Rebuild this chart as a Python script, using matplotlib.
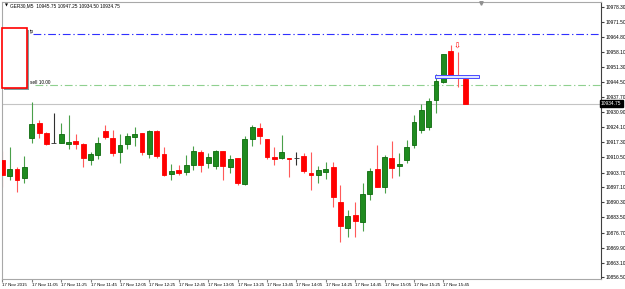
import matplotlib.pyplot as plt
import matplotlib.transforms as mtransforms
from matplotlib.patches import Rectangle

plt.rcParams['font.family'] = ['Liberation Sans', 'DejaVu Sans']

# GER30 M5 candles, 17 Nov 2015 10:45 .. 16:00
opens = [10909.25, 10902.25, 10905.25, 10901.25, 10919.25, 10926.00, 10921.50, 10917.00,
         10917.00, 10916.50, 10918.00, 10916.50, 10909.25, 10911.50, 10922.50, 10919.25,
         10913.00, 10916.50, 10919.75, 10921.50, 10912.00, 10922.50, 10912.00, 10903.00,
         10904.75, 10904.00, 10907.00, 10913.00, 10908.00, 10906.75, 10913.50, 10906.25,
         10910.25, 10898.50, 10918.75, 10923.75, 10918.75, 10910.75, 10910.25, 10910.25,
         10910.25, 10911.25, 10903.50, 10902.50, 10904.00, 10906.25, 10890.50, 10878.75,
         10884.50, 10881.50, 10894.00, 10905.25, 10897.25, 10910.25, 10906.75, 10909.25,
         10916.00, 10922.75, 10924.25, 10936.25, 10944.50, 10958.50, 10947.25, 10945.75]
highs = [10913.50, 10915.25, 10906.25, 10911.25, 10935.50, 10927.25, 10922.00, 10930.50,
         10926.00, 10929.50, 10921.00, 10917.00, 10913.00, 10919.75, 10925.00, 10922.75,
         10921.00, 10921.50, 10924.25, 10921.50, 10922.75, 10922.75, 10915.25, 10907.50,
         10907.00, 10911.50, 10915.75, 10913.75, 10912.50, 10913.75, 10913.50, 10911.50,
         10910.25, 10920.25, 10925.00, 10926.00, 10918.75, 10915.25, 10920.50, 10910.25,
         10913.00, 10912.50, 10913.00, 10906.75, 10908.50, 10908.50, 10898.00, 10886.75,
         10890.50, 10899.00, 10905.75, 10916.00, 10911.50, 10918.00, 10912.50, 10918.25,
         10929.50, 10934.50, 10937.25, 10948.00, 10957.00, 10961.00, 10958.00, 10947.25]
lows = [10897.25, 10900.25, 10895.00, 10899.00, 10917.00, 10919.25, 10916.00, 10917.00,
        10917.00, 10914.25, 10914.25, 10906.25, 10907.00, 10909.75, 10918.75, 10911.25,
        10908.00, 10914.25, 10915.75, 10911.50, 10910.25, 10910.25, 10902.25, 10900.25,
        10902.50, 10902.50, 10904.75, 10904.00, 10905.75, 10905.25, 10900.25, 10903.50,
        10898.00, 10898.00, 10915.75, 10916.50, 10909.75, 10907.00, 10909.75, 10901.75,
        10907.00, 10903.50, 10895.75, 10899.00, 10900.75, 10888.25, 10872.50, 10874.75,
        10874.75, 10877.50, 10891.25, 10897.25, 10894.50, 10901.25, 10902.25, 10908.00,
        10914.75, 10921.50, 10922.75, 10930.50, 10944.00, 10946.75, 10942.25, 10934.50]
closes = [10902.50, 10905.25, 10900.25, 10906.25, 10925.50, 10921.50, 10916.50, 10917.00,
          10921.00, 10917.50, 10916.50, 10910.25, 10912.00, 10917.00, 10919.75, 10912.50,
          10916.00, 10920.25, 10921.00, 10913.00, 10922.50, 10911.25, 10902.50, 10904.50,
          10903.50, 10907.00, 10913.50, 10907.00, 10910.75, 10913.50, 10906.75, 10909.75,
          10899.00, 10918.75, 10924.25, 10920.25, 10910.75, 10909.75, 10913.00, 10909.75,
          10910.25, 10904.50, 10902.50, 10904.75, 10905.25, 10892.75, 10879.75, 10884.25,
          10882.00, 10894.00, 10904.50, 10897.25, 10910.75, 10905.75, 10907.50, 10915.25,
          10926.50, 10931.75, 10936.00, 10945.00, 10957.00, 10946.75, 10946.25, 10934.75]

time_labels = ['17 Nov 2015', '17 Nov 11:05', '17 Nov 11:25', '17 Nov 11:45', '17 Nov 12:05',
               '17 Nov 12:25', '17 Nov 12:45', '17 Nov 13:05', '17 Nov 13:25', '17 Nov 13:45',
               '17 Nov 14:05', '17 Nov 14:25', '17 Nov 14:45', '17 Nov 15:05', '17 Nov 15:25',
               '17 Nov 15:45']
price_ticks = [10978.30, 10971.50, 10964.80, 10958.10, 10951.30, 10944.50, 10937.70, 10930.90,
               10924.10, 10917.30, 10910.50, 10903.70, 10897.10, 10890.30, 10883.50, 10876.70,
               10869.90, 10863.10, 10856.50]

tp_level = 10966.00
sell_level = 10943.00
bid = 10934.75
arrow_price = 10960.40
header = 'GER30,M5  10945.75 10947.25 10934.50 10934.75'

fig = plt.figure(figsize=(6.25, 2.89), dpi=100)
ax = fig.add_axes([2 / 625, 1 - 279 / 289, 599 / 625, 277 / 289])
ax.set_xlim(-0.05, 81.45)
ax.set_ylim(10855.78, 10980.43)

x = list(range(len(opens)))
green, green_edge, red = '#1f8b1f', '#0d6a0d', '#ff0000'
for i in x:
    o, h, l, c = opens[i], highs[i], lows[i], closes[i]
    if c > o:
        col, ec, wc = green, green_edge, '#4aa04a'
    elif c < o:
        col, ec, wc = red, red, '#ff5a5a'
    else:
        col, ec, wc = '#303030', '#303030', '#303030'
    ax.vlines(i, l, h, color=wc, lw=0.8, zorder=2)
    ax.bar(i, abs(c - o), bottom=min(o, c), width=0.66, color=col,
           edgecolor=ec, linewidth=0.6, zorder=3)

# price levels
ax.axhline(bid, color='#c4c4c4', lw=0.8, zorder=1)
ax.axhline(tp_level, xmin=0.052, color='#3030ff', lw=0.8, ls=(0, (7, 2.5, 1.2, 2.5)), zorder=1)
ax.axhline(sell_level, xmin=0.055, color='#8fd08f', lw=0.8, ls=(0, (7, 2.5, 1.2, 2.5)), zorder=1)
ylab = mtransforms.blended_transform_factory(ax.transAxes, ax.transData)
ax.text(0.047, tp_level, 'tp', transform=ylab, fontsize=3.4, va='bottom', ha='left')
ax.text(0.047, sell_level, 'sell 10.00', transform=ylab, fontsize=3.4, va='bottom', ha='left')

# open position box and trade arrow
ax.add_patch(Rectangle((58.8, 10946.2), 6.0, 1.4, fc='#dde6ff', ec='#4a4aff', lw=0.7, zorder=4))
ax.text(61.8, arrow_price, '\u21e9', color=red, fontsize=6, ha='center', va='center',
        family=['DejaVu Sans'], zorder=5)

# header + chart shift marker
ax.text(0.005, 0.986, '\u25bc', transform=ax.transAxes, fontsize=2.8, va='center',
        family=['DejaVu Sans'])
ax.text(0.013, 0.986, header, transform=ax.transAxes, fontsize=3.4, va='center')
ax.plot(0.80, 0.995, marker='v', ms=2.5, color='#909090', transform=ax.transAxes,
        clip_on=False, zorder=6)

# axes / ticks
ax.set_xticks(range(0, 64, 4), labels=time_labels)
for lab in ax.get_xticklabels():
    lab.set_ha('left')
ax.tick_params(axis='x', length=2, pad=1, labelsize=3.15, color='#808080')
ax.yaxis.tick_right()
ax.set_yticks(price_ticks, labels=[f'{v:.2f}' for v in price_ticks])
ax.tick_params(axis='y', length=2, pad=1, labelsize=3.5, color='#404040')
for side in ['left', 'bottom', 'top']:
    ax.spines[side].set_color('#a8a8a8')
    ax.spines[side].set_linewidth(0.8)
ax.spines['right'].set_color('#404040')
ax.spines['right'].set_linewidth(0.8)

ax.text(1.0, bid, '10934.75', transform=ylab, fontsize=3.5, color='white', va='center',
        ha='left', bbox=dict(boxstyle='square,pad=0.25', fc='black', ec='black'), zorder=7,
        clip_on=False)

# red panel at top-left
fig.add_artist(Rectangle((3.5 / 625, 1 - 89.5 / 289), 25 / 625, 60 / 289,
                         transform=fig.transFigure, fc='#7f9f9f', ec='none', zorder=5))
fig.add_artist(Rectangle((2 / 625, 1 - 88 / 289), 25 / 625, 60 / 289,
                         transform=fig.transFigure, fc='white', ec='#ff0000', lw=1.2, zorder=6))

fig.savefig('out.png', dpi=100)
